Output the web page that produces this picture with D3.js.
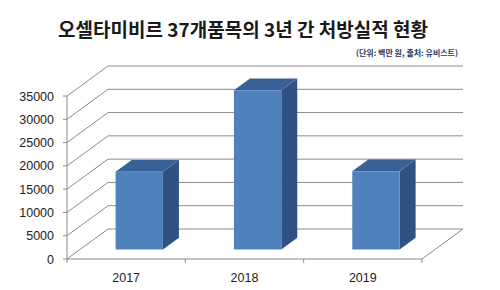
<!DOCTYPE html>
<html>
<head>
<meta charset="utf-8">
<script src="https://cdn.jsdelivr.net/npm/d3@7"></script>
<style>
  body { margin: 0; background: #fff; }
  text { font-family: "Liberation Sans", Arial, sans-serif; }
</style>
</head>
<body>
<div id="chart"></div>
<script>
const years = ['2017', '2018', '2019'];
const amounts = [16700, 34200, 16800];
const yTicks = [0, 5000, 10000, 15000, 20000, 25000, 30000, 35000];
const titleText = '오셀타미비르 37개품목의 3년 간 처방실적 현황';
const noteText = '(단위: 백만 원, 출처: 유비스트)';

const width = 500, height = 290;
// depth of the 3d box: offset of the back wall from the front plane
const depthX = 41, depthY = -30;
const barFront = 0.32, barBack = 0.71;

const svg = d3.select('#chart').append('svg')
    .attr('width', width)
    .attr('height', height);

const x = d3.scaleBand().domain(years).range([67, 422]).paddingInner(0).paddingOuter(0);
const y = d3.scaleLinear().domain([0, 35000]).range([259, 96]);

// project a point at depth t (0 = front, 1 = back)
function proj(px, py, t) {
    return [px + depthX * t, py + depthY * t];
}

// title
svg.append('text')
    .attr('x', 243).attr('y', 37)
    .attr('text-anchor', 'middle')
    .style('font-family', '"Noto Sans CJK KR", sans-serif')
    .style('font-weight', 'bold')
    .style('font-size', '19px')
    .attr('fill', '#1a1a1a')
    .text(titleText);

svg.append('text')
    .attr('x', 458).attr('y', 56)
    .attr('text-anchor', 'end')
    .style('font-family', '"Noto Sans CJK KR", sans-serif')
    .style('font-weight', 'bold')
    .style('font-size', '8px')
    .attr('fill', '#1f3864')
    .text(noteText);

const grid = svg.append('g').attr('stroke', '#8c8c8c').attr('fill', 'none').attr('stroke-width', 1);

// gridlines: diagonal on the left side wall, horizontal on the back wall
grid.selectAll('.gridline')
    .data(yTicks)
  .enter().append('path')
    .attr('class', 'gridline')
    .attr('d', d => {
        const a = proj(x.range()[0], y(d), 0);
        const b = proj(x.range()[0], y(d), 1);
        const c = proj(x.range()[1], y(d), 1);
        return d3.line()([a, b, c]);
    });

// floor right edge and front baseline
const r0 = proj(x.range()[1], y(0), 0), r1 = proj(x.range()[1], y(0), 1);
grid.append('path').attr('d', d3.line()([r0, r1]));
grid.append('path').attr('d', d3.line()([[x.range()[0], y(0)], [x.range()[1], y(0)]]));

// front value axis
grid.append('path').attr('d', d3.line()([[x.range()[0], y(35000)], [x.range()[0], y(0)]]));
grid.selectAll('.ytick')
    .data(yTicks)
  .enter().append('path')
    .attr('class', 'ytick')
    .attr('d', d => d3.line()([[x.range()[0] - 4, y(d)], [x.range()[0], y(d)]]));

// category ticks
const catEdges = years.map(d => x(d)).concat([x.range()[1]]);
grid.selectAll('.xtick')
    .data(catEdges)
  .enter().append('path')
    .attr('class', 'xtick')
    .attr('d', d => d3.line()([[d, y(0)], [d, y(0) + 4]]));

svg.append('g').selectAll('text')
    .data(yTicks)
  .enter().append('text')
    .attr('x', 54)
    .attr('y', d => y(d) + 4.5)
    .attr('text-anchor', 'end')
    .style('font-size', '12.5px')
    .attr('fill', '#222')
    .text(d => d);

svg.append('g').selectAll('text')
    .data(years)
  .enter().append('text')
    .attr('x', d => x(d) + x.bandwidth() / 2)
    .attr('y', 282)
    .attr('text-anchor', 'middle')
    .style('font-size', '12.5px')
    .attr('fill', '#222')
    .text(d => d);

// 3d bars
const barW = x.bandwidth() * 0.4;
const bars = svg.append('g').selectAll('g')
    .data(years.map((d, i) => ({ year: d, value: amounts[i] })))
  .enter().append('g');

function face(pts) { return d3.line()(pts) + 'Z'; }

bars.each(function(d) {
    const g = d3.select(this);
    const x0 = x(d.year) + (x.bandwidth() - barW) / 2;
    const x1 = x0 + barW;
    const yb = y(0), yt = y(d.value);
    const fbl = proj(x0, yb, barFront), fbr = proj(x1, yb, barFront);
    const ftl = proj(x0, yt, barFront), ftr = proj(x1, yt, barFront);
    const btl = proj(x0, yt, barBack), btr = proj(x1, yt, barBack);
    const bbr = proj(x1, yb, barBack);
    g.append('path').attr('d', face([fbr, ftr, btr, bbr])).attr('fill', '#2f5283');
    g.append('path').attr('d', face([ftl, ftr, btr, btl])).attr('fill', '#3a6195');
    g.append('path').attr('d', face([fbl, fbr, ftr, ftl])).attr('fill', '#4f81bd');
});
</script>
</body>
</html>
